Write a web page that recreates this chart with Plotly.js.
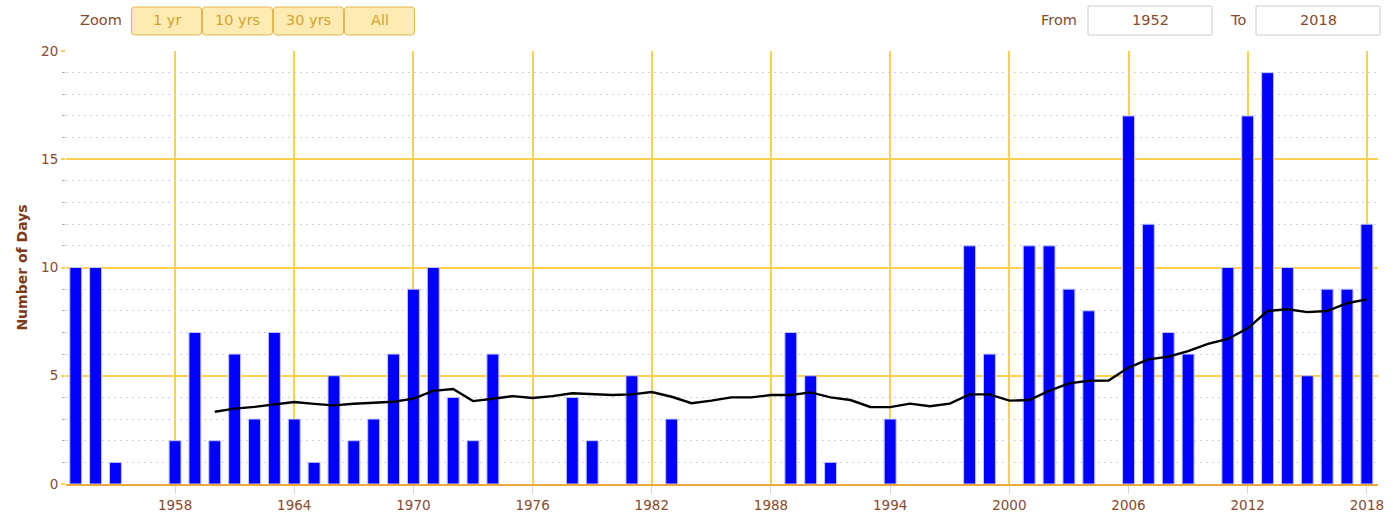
<!DOCTYPE html>
<html><head><meta charset="utf-8">
<script src="https://cdn.plot.ly/plotly-3.0.1.min.js"></script>
<style>html,body{margin:0;padding:0;background:#fff;}#chart{width:1393px;height:516px;}</style>
</head><body><div id="chart"></div>
<script>
// ---- data ----
const years = [1953,1954,1955,1956,1957,1958,1959,1960,1961,1962,1963,1964,1965,1966,1967,1968,1969,1970,1971,1972,1973,1974,1975,1976,1977,1978,1979,1980,1981,1982,1983,1984,1985,1986,1987,1988,1989,1990,1991,1992,1993,1994,1995,1996,1997,1998,1999,2000,2001,2002,2003,2004,2005,2006,2007,2008,2009,2010,2011,2012,2013,2014,2015,2016,2017,2018];
const days = [10,10,1,0,0,2,7,2,6,3,7,3,1,5,2,3,6,9,10,4,2,6,0,0,0,4,2,0,5,0,3,0,0,0,0,0,7,5,1,0,0,3,0,0,0,11,6,0,11,11,9,8,0,17,12,7,6,0,10,17,19,10,5,9,9,12];
const avgYears = [1960,1961,1962,1963,1964,1965,1966,1967,1968,1969,1970,1971,1972,1973,1974,1975,1976,1977,1978,1979,1980,1981,1982,1983,1984,1985,1986,1987,1988,1989,1990,1991,1992,1993,1994,1995,1996,1997,1998,1999,2000,2001,2002,2003,2004,2005,2006,2007,2008,2009,2010,2011,2012,2013,2014,2015,2016,2017,2018];
const avgValues = [3.34,3.48,3.56,3.66,3.79,3.70,3.63,3.71,3.77,3.80,3.94,4.30,4.39,3.83,3.94,4.06,3.97,4.06,4.19,4.14,4.11,4.14,4.25,4.03,3.73,3.85,4.00,4.00,4.11,4.11,4.23,4.00,3.88,3.56,3.55,3.71,3.59,3.71,4.14,4.14,3.85,3.88,4.30,4.65,4.77,4.78,5.38,5.76,5.88,6.14,6.47,6.70,7.19,7.99,8.07,7.94,7.99,8.35,8.53];
const xTickVals = [1958,1964,1970,1976,1982,1988,1994,2000,2006,2012,2018];
const yTickVals = [0,5,10,15,20];
const yTitle = "Number of Days";
const zoomLabel = "Zoom";
const zoomButtons = ["1 yr","10 yrs","30 yrs","All"];
const fromLabel = "From", toLabel = "To";
const fromValue = "1952", toValue = "2018";

// ---- layout helpers ----
const W = 1393, H = 516;
const M = {l:66, r:15, t:51, b:32};
const PW = W - M.l - M.r, PH = H - M.t - M.b;
const px = v => (v - M.l) / PW;
const py = v => (H - M.b - v) / PH;
const FONT = "DejaVu Sans";
const BROWN = "#8a4a2c";
const GOLD = "#ffd04d";

const shapes = [];
const annotations = [];
function roundBox(x0, x1, y0, y1, r, fill, line) {
  const X0 = px(x0), X1 = px(x1), Y0 = py(y0), Y1 = py(y1);
  const rx = r / PW, ry = r / PH;
  const path = `M${X0+rx},${Y0} L${X1-rx},${Y0} Q${X1},${Y0} ${X1},${Y0-ry} L${X1},${Y1+ry} Q${X1},${Y1} ${X1-rx},${Y1} L${X0+rx},${Y1} Q${X0},${Y1} ${X0},${Y1+ry} L${X0},${Y0-ry} Q${X0},${Y0} ${X0+rx},${Y0} Z`;
  shapes.push({type:'path', xref:'paper', yref:'paper', path:path, fillcolor:fill, line:{color:line, width:1}, layer:'above'});
}
function label(text, x, y, color, size) {
  annotations.push({text:text, xref:'paper', yref:'paper', x:px(x), y:py(y), xanchor:'center', yanchor:'middle',
    showarrow:false, font:{family:FONT, size:size, color:color}});
}
label(zoomLabel, 101, 20, BROWN, 14.5);
const btnX = [131, 202, 273, 344, 415];
zoomButtons.forEach((t, i) => {
  roundBox(btnX[i] + 0.5, btnX[i+1] - 0.5, 7, 35, 3, '#fdebb3', '#e3b64c');
  label(t, (btnX[i] + btnX[i+1]) / 2, 20, '#d6a22e', 14.5);
});
label(fromLabel, 1059, 20, BROWN, 14.5);
roundBox(1088, 1212, 6, 35, 1, '#ffffff', '#cccccc');
label(fromValue, 1150, 20, BROWN, 14.5);
label(toLabel, 1238, 20, BROWN, 14.5);
roundBox(1256, 1380, 6, 35, 1, '#ffffff', '#cccccc');
label(toValue, 1318, 20, BROWN, 14.5);

// minor (1-day) gridlines, skipping the major positions
const minorVals = [];
for (let v = 1; v < 20; v++) if (v % 5 !== 0) minorVals.push(v);

const traces = [
  {type:'bar', x:years, y:days.map(v => v === 0 ? null : v), width:0.6,
   marker:{color:'#0000ff', line:{color:'#c3c7ff', width:1}}, hoverinfo:'skip'},
  {type:'scatter', mode:'lines', x:avgYears, y:avgValues, line:{color:'#000000', width:2.4}, hoverinfo:'skip'},
  {type:'scatter', x:[], y:[], yaxis:'y2', hoverinfo:'skip', showlegend:false}
];

const layout = {
  width:W, height:H, margin:M, showlegend:false,
  paper_bgcolor:'#ffffff', plot_bgcolor:'#ffffff',
  font:{family:FONT, color:BROWN},
  xaxis:{range:[1952.51, 2018.56], tickmode:'array', tickvals:xTickVals, ticktext:xTickVals.map(String),
    showgrid:true, gridcolor:GOLD, gridwidth:2, zeroline:false,
    ticks:'outside', ticklen:8, tickcolor:'#ccd6eb', tickwidth:1,
    showline:true, linecolor:'#eaa93a', linewidth:2,
    tickfont:{family:FONT, size:13.5, color:BROWN}},
  yaxis:{range:[0,20], tickmode:'array', tickvals:yTickVals, ticktext:yTickVals.map(String),
    showgrid:true, gridcolor:GOLD, gridwidth:2, zeroline:false, showline:false,
    ticks:'outside', ticklen:4, tickcolor:GOLD, tickwidth:2,
    tickfont:{family:FONT, size:13.5, color:BROWN},
    title:{text:yTitle, font:{family:FONT, size:14, color:'#7c3c1c', weight:'bold'}, standoff:10}},
  yaxis2:{range:[0,20], overlaying:'y', side:'left', anchor:'x', tickmode:'array', tickvals:minorVals,
    showticklabels:false, showgrid:true, gridcolor:'#d4d4d4', griddash:'1.5px,4.5px', gridwidth:1,
    ticks:'outside', ticklen:3, tickcolor:'#b0b0b0', zeroline:false, showline:false},
  shapes:shapes, annotations:annotations
};
Plotly.newPlot('chart', traces, layout, {displayModeBar:false, staticPlot:true});
</script>
</body></html>
